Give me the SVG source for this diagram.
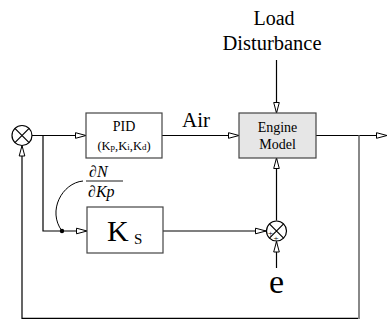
<svg xmlns="http://www.w3.org/2000/svg" width="387" height="320" viewBox="0 0 387 320">
<defs>
<marker id="arr" markerUnits="userSpaceOnUse" markerWidth="13" markerHeight="9" refX="11.5" refY="4" orient="auto">
<path d="M1,1.2 L11.5,4 L1,6.8 Z" fill="#fff" stroke="#000" stroke-width="1"/>
</marker>
</defs>
<style>
.ln{fill:none;stroke:#000;stroke-width:1.2}
.box{stroke:#444;stroke-width:1.2}
.t{font-family:"Liberation Serif","Times New Roman",serif;fill:#000}
.sum{fill:#fff;stroke:#000;stroke-width:1.2}
</style>
<rect width="387" height="320" fill="#fff"/>
<g id="connectors">
<path class="ln" d="M32,135.5 H86" marker-end="url(#arr)"/>
<path class="ln" d="M43,135.5 V231 H87" marker-end="url(#arr)"/>
<path class="ln" d="M162,135.5 H239" marker-end="url(#arr)"/>
<path class="ln" d="M276.5,60 V113" marker-end="url(#arr)"/>
<path class="ln" d="M316,135.5 H387" marker-end="url(#arr)"/>
<path d="M359,135.5 V319" fill="none" stroke="#888" stroke-width="2"/>
<path class="ln" d="M358,318.3 H22 V145.5" marker-end="url(#arr)"/>
<path class="ln" d="M163,231 H266" marker-end="url(#arr)"/>
<path class="ln" d="M276.5,268 V241.5" marker-end="url(#arr)"/>
<path class="ln" d="M276.5,220.5 V158" marker-end="url(#arr)"/>
<path d="M83,181 C62,183 47,211 62,231" fill="none" stroke="#000" stroke-width="1"/>
<circle cx="62" cy="231" r="2.2" fill="#000"/>
</g>
<g id="sum1">
<circle class="sum" cx="22" cy="135.5" r="10"/>
<path class="ln" d="M14.9,128.4 L29.1,142.6 M29.1,128.4 L14.9,142.6"/>
</g>
<g id="pid">
<rect class="box" x="86" y="113" width="76" height="45" fill="#fff"/>
<text class="t" x="124" y="131" font-size="14" text-anchor="middle">PID</text>
<text class="t" x="124" y="150" font-size="12.5" text-anchor="middle">(K<tspan font-size="9">p</tspan>,K<tspan font-size="9">i</tspan>,K<tspan font-size="9">d</tspan>)</text>
</g>
<g id="air">
<text class="t" x="182" y="127" font-size="21">Air</text>
</g>
<g id="engine">
<rect class="box" x="239" y="113" width="77" height="45" fill="#e6e6e6"/>
<text class="t" x="277.5" y="132" font-size="14" text-anchor="middle">Engine</text>
<text class="t" x="277.5" y="149" font-size="14" text-anchor="middle">Model</text>
</g>
<g id="load">
<text class="t" x="274" y="25" font-size="20" text-anchor="middle">Load</text>
<text class="t" x="272" y="50" font-size="20.5" text-anchor="middle">Disturbance</text>
</g>
<g id="ks">
<rect class="box" x="87" y="207" width="76" height="46" fill="#fff"/>
<text class="t" x="107" y="241" font-size="30">K</text>
<text class="t" x="134" y="244" font-size="15">S</text>
</g>
<g id="deriv">
<text class="t" x="89" y="177" font-size="16" font-style="italic">∂N</text>
<line x1="86" y1="181" x2="123" y2="181" stroke="#000" stroke-width="0.9"/>
<text class="t" x="88" y="197" font-size="16" font-style="italic">∂Kp</text>
</g>
<g id="sum2">
<circle class="sum" cx="276.5" cy="231" r="10"/>
<path class="ln" d="M269.4,223.9 L283.6,238.1 M283.6,223.9 L269.4,238.1"/>
<text class="t" x="270.5" y="236" font-size="9" text-anchor="middle">+</text>
<text class="t" x="276" y="241" font-size="9" text-anchor="middle">+</text>
</g>
<g id="e">
<text class="t" x="276.5" y="293" font-size="34" text-anchor="middle">e</text>
</g>
</svg>
